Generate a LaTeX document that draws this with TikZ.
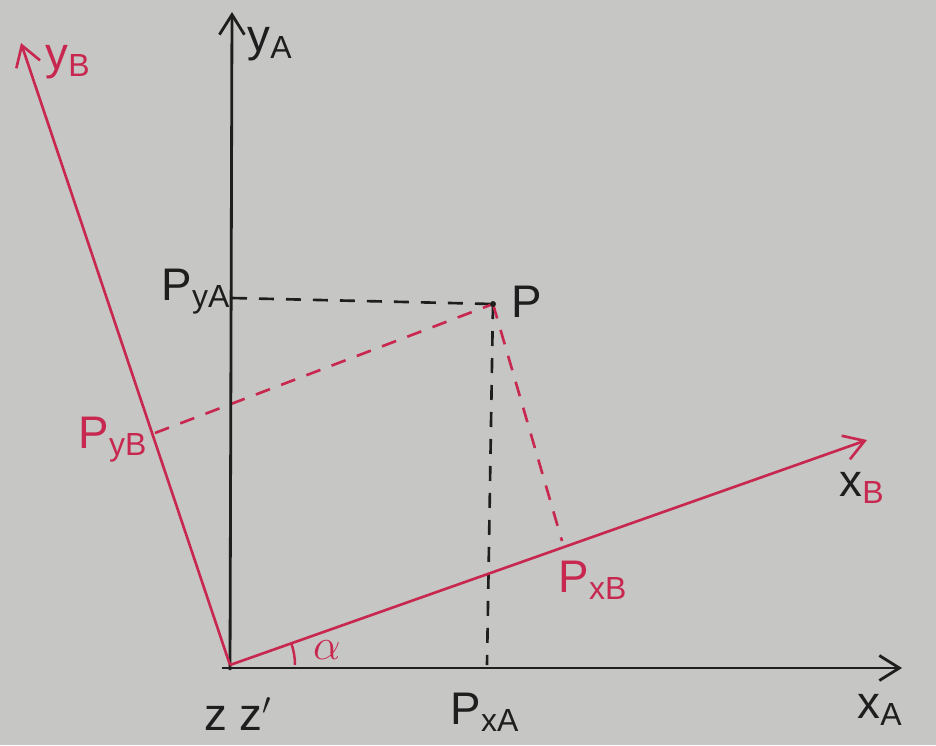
\documentclass[tikz,border=0pt]{standalone}
\usepackage{fontspec}
\setmainfont{Liberation Sans}
\usetikzlibrary{arrows.meta}
\definecolor{paper}{RGB}{198,198,196}
\definecolor{pen}{RGB}{30,30,30}
\definecolor{redpen}{RGB}{200,40,80}
\tikzset{
  axis/.style={draw=pen, line width=1.6pt, -{Straight Barb[length=4mm,width=5mm,line width=1.6pt]}},
  raxis/.style={draw=redpen, line width=1.5pt, -{Straight Barb[length=4mm,width=5mm,line width=1.5pt]}},
  bdash/.style={draw=pen, line width=1.5pt, dash pattern=on 3mm off 2.4mm},
  rdash/.style={draw=redpen, line width=1.5pt, dash pattern=on 3mm off 2.4mm},
  lbl/.style={text=pen, font=\fontsize{26}{30}\selectfont, inner sep=0pt},
  rlbl/.style={text=redpen, font=\fontsize{26}{30}\selectfont, inner sep=0pt},
}
\begin{document}
\begin{tikzpicture}[x=0.2mm,y=-0.2mm]
\fill[paper] (0,0) rectangle (936,745);
\useasboundingbox (0,0) rectangle (936,745);
% points
\coordinate (O) at (230,665);
\coordinate (Ob) at (230,670);
\coordinate (Ol) at (222,668);
\coordinate (yAend) at (232,12);
\coordinate (xAend) at (902,668);
\coordinate (xBend) at (867,440);
\coordinate (yBend) at (21,43);
\coordinate (P) at (493,304);
\coordinate (PyA) at (232,298);
\coordinate (PxA) at (487,665);
\coordinate (PyB) at (155,433);
\coordinate (PxB) at (562,541);
% dashed projections
\draw[bdash] (PyA) -- (P);
\draw[bdash] (P) -- (PxA);
\draw[rdash] (PyB) -- (P);
\draw[rdash] (P) -- (PxB);
% axes
\draw[axis] (Ob) -- (yAend);
\draw[axis] (Ol) -- (xAend);
\draw[raxis] (O) -- (xBend);
\draw[raxis] (O) -- (yBend);
\fill[pen] (P) circle (3);
% angle
\draw[redpen, line width=1.4pt] (O) ++(0:65) arc (0:-19.5:65);
% labels
\node[lbl] (lyA) at (270,44) {y\textsubscript{A}};
\node[rlbl] (lyB) at (68,62) {y\textsubscript{B}};
\node[lbl] (lPyA) at (196,292) {P\textsubscript{yA}};
\node[lbl] (lP) at (527,302) {P};
\node[rlbl] (lPyB) at (113,440) {P\textsubscript{yB}};
\node[inner sep=0pt, font=\fontsize{26}{30}\selectfont] (lxB) at (862,488) {\textcolor{pen}{x}\textcolor{redpen}{\textsubscript{B}}};
\node[rlbl] (lPxB) at (593,580) {P\textsubscript{xB}};
\node[lbl] (lxA) at (880,710) {x\textsubscript{A}};
\node[lbl] (lPxA) at (485,712) {P\textsubscript{xA}};
\node[lbl] (lz) at (238,714) {z z$'$};
\node[rlbl, font=\fontsize{32}{36}\selectfont] (lal) at (327,650) {$\alpha$};
\end{tikzpicture}
\end{document}
